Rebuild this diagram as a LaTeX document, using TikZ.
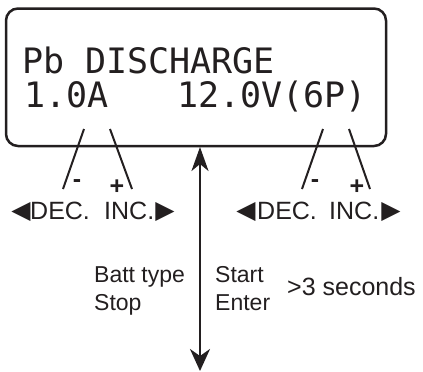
\documentclass[tikz,border=0pt]{standalone}
\usepackage{fontspec}
\setmainfont{Liberation Sans}
\newfontfamily\lcdfont{DejaVu Sans Mono}
\newfontfamily\symfont{DejaVu Sans}
\usetikzlibrary{arrows.meta}
\definecolor{ink}{HTML}{231F20}
\begin{document}
\begin{tikzpicture}[x=1pt,y=-1pt,color=ink,
  lcdtext/.style={anchor=base west,inner sep=0pt,font=\lcdfont\fontsize{35}{35}\selectfont},
  keytext/.style={anchor=base west,inner sep=0pt,font=\fontsize{25}{25}\selectfont},
  sign/.style={inner sep=0pt,font=\bfseries\fontsize{25}{25}\selectfont},
  tri/.style={anchor=base,inner sep=0pt,font=\symfont\fontsize{25}{25}\selectfont},
  info/.style={anchor=base west,inner sep=0pt,font=\fontsize{23}{23}\selectfont},
  lead/.style={line width=2pt}]
  \useasboundingbox (0,0) rectangle (423,372);
  % display
  \draw[line width=2.5pt,rounded corners=12pt] (6,8.5) rectangle (386,146);
  \node[lcdtext] (mode) at (22,73) {Pb DISCHARGE};
  \node[lcdtext] (amps) at (24,107) {1.0A};
  \node[lcdtext] (volts) at (177,107) {12.0V(6P)};
  % keys under the display
  \node[sign] (minusL) at (77,184) {-};
  \node[sign] (plusL) at (117,187) {+};
  \node[sign] (minusR) at (315,184) {-};
  \node[sign] (plusR) at (357,187) {+};
  \coordinate (aL) at (84,129);  \coordinate (bL) at (63,189);
  \coordinate (cL) at (110,129); \coordinate (dL) at (132,189);
  \coordinate (aR) at (323,129); \coordinate (bR) at (302,189);
  \coordinate (cR) at (349,129); \coordinate (dR) at (370,189);
  \draw[lead] (aL) -- (bL);
  \draw[lead] (cL) -- (dL);
  \draw[lead] (aR) -- (bR);
  \draw[lead] (cR) -- (dR);
  \node[tri] (triL1) at (21,218) {◀};
  \node[keytext] (decL) at (30,219) {DEC.};
  \node[keytext] (incL) at (104,219) {INC.};
  \node[tri] (triL2) at (165,218) {▶};
  \node[tri] (triR1) at (246,218) {◀};
  \node[keytext] (decR) at (257,219) {DEC.};
  \node[keytext] (incR) at (329,219) {INC.};
  \node[tri] (triR2) at (391,218) {▶};
  % main button
  \coordinate (btop) at (200,147);
  \coordinate (bbot) at (200,371);
  \draw[line width=2.5pt,{Stealth[length=24pt,width=17pt,inset=7pt]}-{Stealth[length=22pt,width=20pt,inset=7pt]}] (btop) -- (bbot);
  \node[info] (batt) at (94,282) {Batt type};
  \node[info] (stop) at (94,310) {Stop};
  \node[info] (start) at (215,282) {Start};
  \node[info] (enter) at (215,310) {Enter};
  \node[info,font=\fontsize{25}{25}\selectfont] (hold) at (287,295) {>3 seconds};
\end{tikzpicture}
\end{document}
